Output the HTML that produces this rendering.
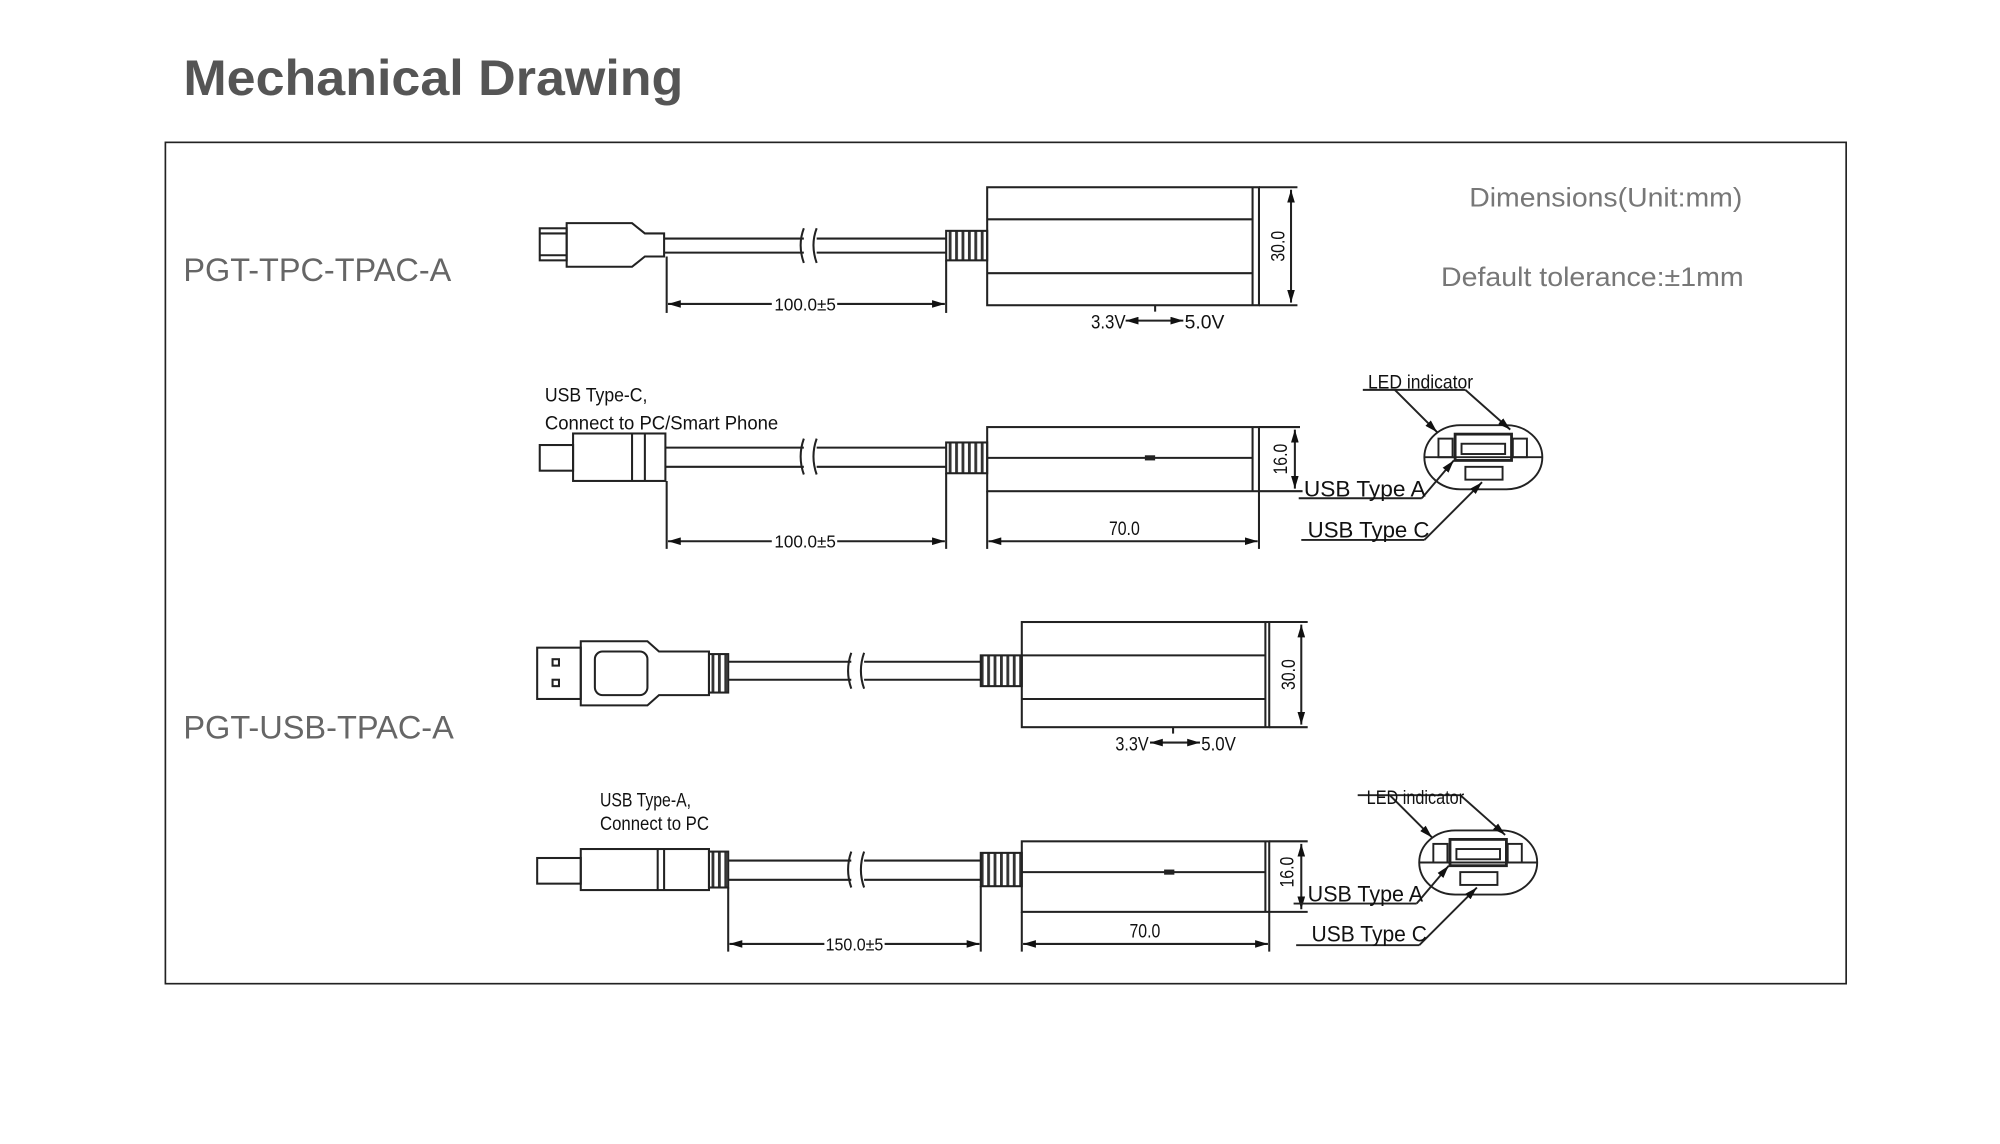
<!DOCTYPE html>
<html><head><meta charset="utf-8"><style>
html,body{margin:0;padding:0;background:#fff;}
svg{display:block;}
.c{font-family:"Liberation Sans Narrow","Liberation Sans",sans-serif;fill:#111;}
</style></head><body>
<svg width="2000" height="1144" viewBox="0 0 1560 892" preserveAspectRatio="none" xmlns="http://www.w3.org/2000/svg">
<defs>
<marker id="a" viewBox="0 0 10 6" refX="10" refY="3" markerWidth="10" markerHeight="6" orient="auto-start-reverse" markerUnits="userSpaceOnUse"><path d="M0,0L10,3L0,6z" fill="#111"/></marker>
<pattern id="rib" width="5" height="6" patternUnits="userSpaceOnUse"><rect width="5" height="6" fill="#fff"/><rect x="0" width="2.2" height="6" fill="#333"/></pattern>
</defs>
<rect width="1560" height="892" fill="#fff"/>
<text x="143" y="74" font-family="'Liberation Sans','DejaVu Sans',sans-serif" font-weight="bold" font-size="39" fill="#555" textLength="390" lengthAdjust="spacingAndGlyphs">Mechanical Drawing</text>
<rect x="129" y="111" width="1311" height="656" fill="none" stroke="#222" stroke-width="1.3"/>
<g font-family="'Liberation Sans','DejaVu Sans',sans-serif" fill="#666">
<text x="143" y="219" font-size="25" textLength="209" lengthAdjust="spacingAndGlyphs">PGT-TPC-TPAC-A</text>
<text x="143" y="576" font-size="25" textLength="211" lengthAdjust="spacingAndGlyphs">PGT-USB-TPAC-A</text>
<text x="1146" y="161" font-size="21" fill="#777" textLength="213" lengthAdjust="spacingAndGlyphs">Dimensions(Unit:mm)</text>
<text x="1124" y="223" font-size="21" fill="#777" textLength="236" lengthAdjust="spacingAndGlyphs">Default tolerance:±1mm</text>
</g>
<g stroke="#222" stroke-width="1.6" fill="none">
<!-- Section 1 -->
<rect x="421" y="178" width="21" height="25"/>
<line x1="421" y1="182" x2="442" y2="182"/><line x1="421" y1="199" x2="442" y2="199"/>
<path d="M442,174H493L503,182H518V200H503L493,208H442Z"/>
<line x1="518" y1="186" x2="627" y2="186"/><line x1="518" y1="197" x2="627" y2="197"/>
<line x1="637" y1="186" x2="738" y2="186"/><line x1="637" y1="197" x2="738" y2="197"/>
<path d="M627,178Q622,191 627,205M637,178Q632,191 637,205"/>
<rect x="738" y="180" width="32" height="23" fill="url(#rib)"/>
<rect x="770" y="146" width="212" height="92"/>
<line x1="770" y1="171" x2="977" y2="171"/><line x1="770" y1="213" x2="977" y2="213"/>
<line x1="977" y1="146" x2="977" y2="238"/>
<line x1="982" y1="146" x2="1012" y2="146"/><line x1="982" y1="238" x2="1012" y2="238"/>
<line x1="1007" y1="148" x2="1007" y2="236" marker-start="url(#a)" marker-end="url(#a)"/>
<line x1="520" y1="200" x2="520" y2="244"/><line x1="738" y1="203" x2="738" y2="244"/>
<line x1="521" y1="237" x2="602" y2="237" marker-start="url(#a)"/><line x1="653" y1="237" x2="737" y2="237" marker-end="url(#a)"/>
<line x1="901" y1="238" x2="901" y2="243"/>
<line x1="878" y1="250" x2="923" y2="250" marker-start="url(#a)" marker-end="url(#a)"/>
<!-- Section 2 -->
<rect x="421" y="347" width="26" height="20"/>
<rect x="447" y="338" width="72" height="37"/>
<line x1="493" y1="338" x2="493" y2="375"/><line x1="503" y1="338" x2="503" y2="375"/>
<line x1="519" y1="349" x2="627" y2="349"/><line x1="519" y1="364" x2="627" y2="364"/>
<line x1="637" y1="349" x2="738" y2="349"/><line x1="637" y1="364" x2="738" y2="364"/>
<path d="M627,342Q622,356 627,370M637,342Q632,356 637,370"/>
<rect x="738" y="345" width="32" height="24" fill="url(#rib)"/>
<rect x="770" y="333" width="212" height="50"/>
<line x1="770" y1="357" x2="977" y2="357"/><line x1="977" y1="333" x2="977" y2="383"/>
<line x1="982" y1="333" x2="1014" y2="333"/><line x1="982" y1="383" x2="1016" y2="383"/>
<line x1="1010" y1="335" x2="1010" y2="381" marker-start="url(#a)" marker-end="url(#a)"/>
<line x1="520" y1="375" x2="520" y2="428"/><line x1="738" y1="369" x2="738" y2="428"/>
<line x1="521" y1="422" x2="602" y2="422" marker-start="url(#a)"/><line x1="653" y1="422" x2="737" y2="422" marker-end="url(#a)"/>
<line x1="770" y1="383" x2="770" y2="428"/><line x1="982" y1="383" x2="982" y2="428"/>
<line x1="771" y1="422" x2="981" y2="422" marker-start="url(#a)" marker-end="url(#a)"/>
<!-- Section 3 -->
<rect x="419" y="505" width="34" height="40"/>
<rect x="431" y="514" width="5" height="5"/><rect x="431" y="530" width="5" height="5"/>
<path d="M453,500H505L514,508H553V542H514L505,550H453Z"/>
<rect x="464" y="508" width="41" height="34" rx="6"/>
<rect x="553" y="510" width="15" height="30" fill="url(#rib)"/>
<line x1="568" y1="516" x2="664" y2="516"/><line x1="568" y1="530" x2="664" y2="530"/>
<line x1="674" y1="516" x2="765" y2="516"/><line x1="674" y1="530" x2="765" y2="530"/>
<path d="M664,509Q659,523 664,537M674,509Q669,523 674,537"/>
<rect x="765" y="511" width="32" height="24" fill="url(#rib)"/>
<rect x="797" y="485" width="193" height="82"/>
<line x1="797" y1="511" x2="987" y2="511"/><line x1="797" y1="545" x2="987" y2="545"/>
<line x1="987" y1="485" x2="987" y2="567"/>
<line x1="990" y1="485" x2="1020" y2="485"/><line x1="990" y1="567" x2="1020" y2="567"/>
<line x1="1015" y1="487" x2="1015" y2="565" marker-start="url(#a)" marker-end="url(#a)"/>
<line x1="915" y1="567" x2="915" y2="572"/>
<line x1="897" y1="579" x2="936" y2="579" marker-start="url(#a)" marker-end="url(#a)"/>
<!-- Section 4 -->
<rect x="419" y="669" width="34" height="20"/>
<rect x="453" y="662" width="100" height="32"/>
<line x1="513" y1="662" x2="513" y2="694"/><line x1="518" y1="662" x2="518" y2="694"/>
<rect x="553" y="664" width="15" height="28" fill="url(#rib)"/>
<line x1="568" y1="671" x2="664" y2="671"/><line x1="568" y1="686" x2="664" y2="686"/>
<line x1="674" y1="671" x2="765" y2="671"/><line x1="674" y1="686" x2="765" y2="686"/>
<path d="M664,664Q659,678 664,692M674,664Q669,678 674,692"/>
<rect x="765" y="665" width="32" height="26" fill="url(#rib)"/>
<rect x="797" y="656" width="193" height="55"/>
<line x1="797" y1="680" x2="987" y2="680"/><line x1="987" y1="656" x2="987" y2="711"/>
<line x1="990" y1="656" x2="1020" y2="656"/><line x1="990" y1="711" x2="1020" y2="711"/>
<line x1="1015" y1="658" x2="1015" y2="709" marker-start="url(#a)" marker-end="url(#a)"/>
<line x1="568" y1="692" x2="568" y2="742"/><line x1="765" y1="691" x2="765" y2="742"/>
<line x1="569" y1="736" x2="643" y2="736" marker-start="url(#a)"/><line x1="690" y1="736" x2="764" y2="736" marker-end="url(#a)"/>
<line x1="797" y1="711" x2="797" y2="742"/><line x1="990" y1="711" x2="990" y2="742"/>
<line x1="798" y1="736" x2="989" y2="736" marker-start="url(#a)" marker-end="url(#a)"/>
</g>
<rect x="893" y="355" width="8" height="4" fill="#222"/>
<rect x="908" y="678" width="8" height="4" fill="#222"/>
<g id="led">
<g stroke="#222" stroke-width="1.5" fill="none">
<rect x="1111" y="331.5" width="92" height="50" rx="28" ry="25"/>
<line x1="1111" y1="356.5" x2="1203" y2="356.5"/>
<rect x="1122" y="342" width="11" height="14.5"/><rect x="1180" y="342" width="11" height="14.5"/>
<rect x="1135" y="338.5" width="44" height="20.5" stroke-width="2.2"/>
<rect x="1140" y="346" width="34" height="8"/>
<rect x="1143" y="364" width="29" height="10"/>
<line x1="1063" y1="304" x2="1143" y2="304"/>
<line x1="1088" y1="304" x2="1121" y2="337" marker-end="url(#a)"/>
<line x1="1143" y1="304" x2="1178" y2="335" marker-end="url(#a)"/>
<line x1="1013" y1="388.5" x2="1109" y2="388.5"/>
<line x1="1109" y1="388.5" x2="1134" y2="359" marker-end="url(#a)"/>
<line x1="1015" y1="421" x2="1111" y2="421"/>
<line x1="1111" y1="421" x2="1156" y2="376" marker-end="url(#a)"/>
</g>
</g>
<use href="#led" transform="translate(-4,316)"/>
<g class="c" font-size="15">
<text transform="translate(1002,192) rotate(-90)" text-anchor="middle" textLength="24" lengthAdjust="spacingAndGlyphs">30.0</text>
<text x="604" y="242" font-size="14" textLength="48" lengthAdjust="spacingAndGlyphs">100.0±5</text>
<text x="851" y="256" textLength="27" lengthAdjust="spacingAndGlyphs">3.3V</text>
<text x="924" y="256" textLength="31" lengthAdjust="spacingAndGlyphs">5.0V</text>
<text x="425" y="313" textLength="80" lengthAdjust="spacingAndGlyphs">USB Type-C,</text>
<text x="425" y="335" textLength="182" lengthAdjust="spacingAndGlyphs">Connect to PC/Smart Phone</text>
<text transform="translate(1004,358) rotate(-90)" text-anchor="middle" textLength="24" lengthAdjust="spacingAndGlyphs">16.0</text>
<text x="604" y="427" font-size="14" textLength="48" lengthAdjust="spacingAndGlyphs">100.0±5</text>
<text x="865" y="417" textLength="24" lengthAdjust="spacingAndGlyphs">70.0</text>
<text x="1067" y="303" textLength="82" lengthAdjust="spacingAndGlyphs">LED indicator</text>
<text x="1017" y="387" font-size="17" textLength="95" lengthAdjust="spacingAndGlyphs">USB Type A</text>
<text x="1020" y="419" font-size="17" textLength="95" lengthAdjust="spacingAndGlyphs">USB Type C</text>
<text transform="translate(1010,526) rotate(-90)" text-anchor="middle" textLength="24" lengthAdjust="spacingAndGlyphs">30.0</text>
<text x="870" y="585" textLength="26" lengthAdjust="spacingAndGlyphs">3.3V</text>
<text x="937" y="585" textLength="27" lengthAdjust="spacingAndGlyphs">5.0V</text>
<text x="468" y="629" textLength="71" lengthAdjust="spacingAndGlyphs">USB Type-A,</text>
<text x="468" y="647" textLength="85" lengthAdjust="spacingAndGlyphs">Connect to PC</text>
<text transform="translate(1009,680) rotate(-90)" text-anchor="middle" textLength="24" lengthAdjust="spacingAndGlyphs">16.0</text>
<text x="644" y="741" font-size="14" textLength="45" lengthAdjust="spacingAndGlyphs">150.0±5</text>
<text x="881" y="731" textLength="24" lengthAdjust="spacingAndGlyphs">70.0</text>
<text x="1066" y="627" textLength="76" lengthAdjust="spacingAndGlyphs">LED indicator</text>
<text x="1020" y="703" font-size="17" textLength="90" lengthAdjust="spacingAndGlyphs">USB Type A</text>
<text x="1023" y="734" font-size="17" textLength="90" lengthAdjust="spacingAndGlyphs">USB Type C</text>
</g>
</svg>
</body></html>
